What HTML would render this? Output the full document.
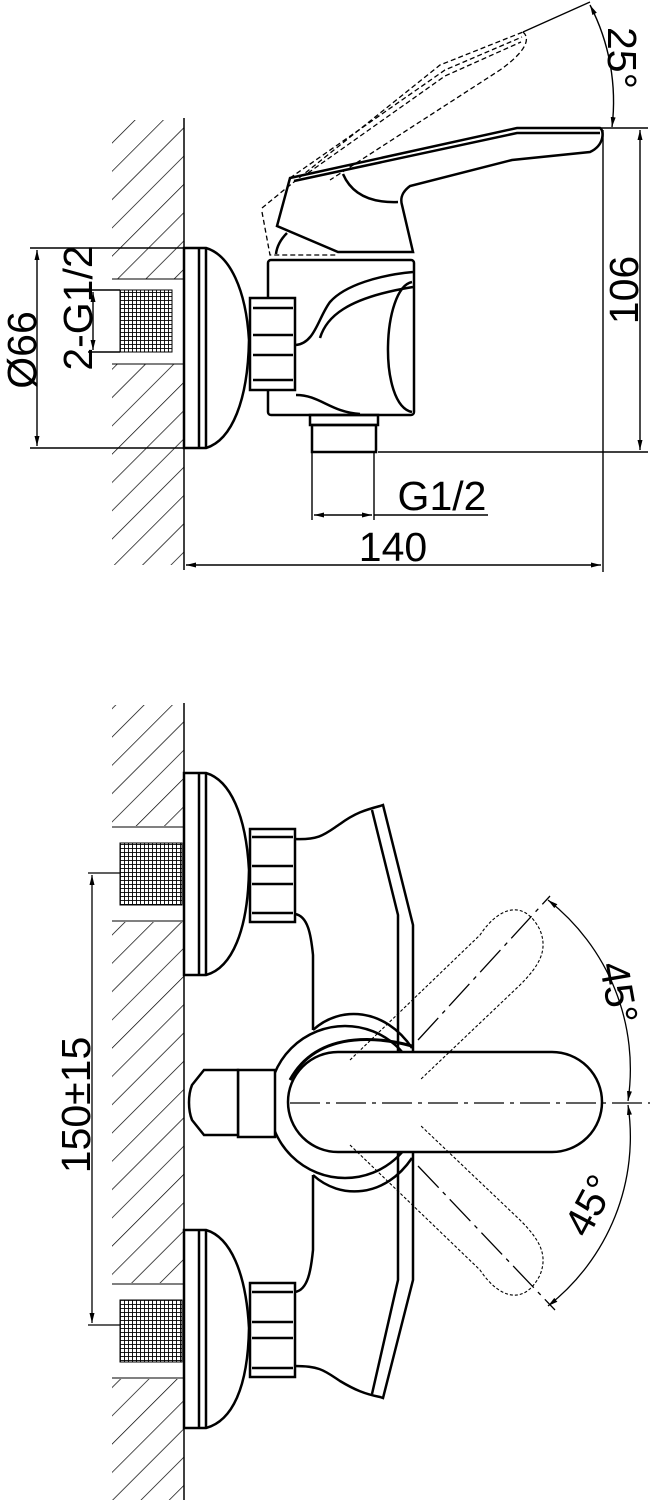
<!DOCTYPE html>
<html><head><meta charset="utf-8"><style>html,body{margin:0;padding:0;background:#fff}svg{display:block}</style></head><body>
<svg width="653" height="1500" viewBox="0 0 653 1500" xmlns="http://www.w3.org/2000/svg" font-family="Liberation Sans, sans-serif">
<defs>
<pattern id="h" patternUnits="userSpaceOnUse" width="20" height="20" patternTransform="rotate(45)"><line x1="0" y1="0" x2="0" y2="20" stroke="#000" stroke-width="1.4"/></pattern>
<pattern id="k" patternUnits="userSpaceOnUse" width="4" height="4"><rect width="4" height="4" fill="#fff"/><path d="M0 0H4M0 0V4" stroke="#000" stroke-width="1.8"/></pattern>
<marker id="a" viewBox="0 0 10 10" refX="10" refY="5" markerWidth="10" markerHeight="10" orient="auto-start-reverse" markerUnits="userSpaceOnUse"><path d="M0 2.5L10 5L0 7.5z" fill="#000"/></marker>
</defs>
<g fill="none" stroke="#000">
<!-- TOP VIEW -->
<rect x="112" y="120" width="72" height="445" fill="url(#h)" stroke="none"/>
<rect x="110" y="279" width="76" height="85" fill="#fff" stroke="none"/>
<line x1="184" y1="118" x2="184" y2="570" stroke-width="1.5"/>
<line x1="112" y1="279" x2="184" y2="279"/><line x1="112" y1="364" x2="184" y2="364"/>
<rect x="120" y="290" width="52" height="62" fill="url(#k)" stroke="#000" stroke-width="1"/>
<g stroke-width="2.5">
<path d="M184 248H206C230 255 246 290 249 340C248 400 232 440 206 448H184Z" fill="#fff"/>
<line x1="206" y1="248" x2="206" y2="448"/><line x1="199" y1="249" x2="199" y2="447"/>
<rect x="268" y="260" width="146" height="155" rx="3" fill="#fff"/>
<path d="M296 345C315 343 318 318 330 302C345 285 380 275 413 272"/>
<path d="M296 395C320 395 330 412 360 414"/>
<path d="M412 282C382 288 378 405 412 412"/>
<path d="M320 338C326 318 345 298 413 287"/>
<rect x="250" y="298" width="45" height="92" fill="#fff"/>
<line x1="253" y1="308" x2="293" y2="308"/><line x1="253" y1="335" x2="293" y2="335"/><line x1="253" y1="355" x2="293" y2="355"/><line x1="253" y1="380" x2="293" y2="380"/>
<rect x="310" y="415" width="68" height="10"/>
<rect x="312" y="425" width="64" height="27"/>
<path d="M290 178L517 128H600C604 130 605 145 590 152L512 160L410 186C402 192 400 198 402 205L413 252H338L277 226Z" fill="#fff"/>
<path d="M343 174C352 195 372 203 398 202"/>
<path d="M294 181L517 133H600"/>
<path d="M276 254C277 245 282 238 287 233"/>
</g>
<g stroke-width="1.3" stroke-dasharray="5 3">
<path d="M262 212L270 255H338"/>
<path d="M262 208L284 190L440 65L523 32"/>
<path d="M290 178L445 70L522 37"/>
<path d="M308 173L445 76L521 42"/>
<path d="M523 32C530 38 528 50 500 70L330 180"/>
</g>
<line x1="523" y1="32" x2="590" y2="2" stroke-width="1.3"/>
<path d="M590 5A210 210 0 0 1 612 127" stroke-width="1.4" marker-start="url(#a)" marker-end="url(#a)"/>
<g stroke-width="1.4">
<line x1="30" y1="248" x2="184" y2="248"/><line x1="30" y1="448" x2="184" y2="448"/>
<line x1="37" y1="250" x2="37" y2="446" marker-start="url(#a)" marker-end="url(#a)"/>
<line x1="88" y1="290" x2="120" y2="290"/><line x1="88" y1="352" x2="120" y2="352"/>
<line x1="93" y1="292" x2="93" y2="350" marker-start="url(#a)" marker-end="url(#a)"/>
<line x1="600" y1="128" x2="648" y2="128"/><line x1="378" y1="452" x2="648" y2="452"/>
<line x1="640" y1="130" x2="640" y2="450" marker-start="url(#a)" marker-end="url(#a)"/>
<line x1="312" y1="452" x2="312" y2="520"/><line x1="374" y1="452" x2="374" y2="520"/>
<line x1="374" y1="515" x2="488" y2="515"/>
<line x1="314" y1="515" x2="372" y2="515" marker-start="url(#a)" marker-end="url(#a)"/>
<line x1="603" y1="130" x2="603" y2="572"/>
<line x1="186" y1="565" x2="601" y2="565" marker-start="url(#a)" marker-end="url(#a)"/>
</g>
<!-- BOTTOM VIEW -->
<rect x="112" y="705" width="72" height="795" fill="url(#h)" stroke="none"/>
<rect x="110" y="826" width="76" height="96" fill="#fff" stroke="none"/>
<rect x="110" y="1283" width="76" height="96" fill="#fff" stroke="none"/>
<line x1="184" y1="703" x2="184" y2="1500" stroke-width="1.5"/>
<line x1="112" y1="827" x2="184" y2="827"/><line x1="112" y1="921" x2="184" y2="921"/>
<line x1="112" y1="1284" x2="184" y2="1284"/><line x1="112" y1="1378" x2="184" y2="1378"/>
<rect x="120" y="843" width="62" height="62" fill="url(#k)" stroke="#000" stroke-width="1"/>
<rect x="120" y="1300" width="62" height="62" fill="url(#k)" stroke="#000" stroke-width="1"/>
<g stroke-width="2.5">
<path d="M184 773H206C230 780 246 815 249 870C248 930 232 968 206 975H184Z" fill="#fff"/>
<line x1="206" y1="773" x2="206" y2="975"/><line x1="199" y1="774" x2="199" y2="974"/>
<path d="M184 1230H206C230 1237 246 1272 249 1328C248 1388 232 1421 206 1428H184Z" fill="#fff"/>
<line x1="206" y1="1230" x2="206" y2="1428"/><line x1="199" y1="1231" x2="199" y2="1427"/>
<rect x="250" y="829" width="45" height="93"/>
<line x1="252" y1="837" x2="293" y2="837"/><line x1="252" y1="866" x2="293" y2="866"/><line x1="252" y1="884" x2="293" y2="884"/><line x1="252" y1="913" x2="293" y2="913"/>
<rect x="250" y="1283" width="45" height="94"/>
<line x1="252" y1="1292" x2="293" y2="1292"/><line x1="252" y1="1322" x2="293" y2="1322"/><line x1="252" y1="1338" x2="293" y2="1338"/><line x1="252" y1="1368" x2="293" y2="1368"/>
<path d="M295 839C320 840 325 834 340 824C355 813 365 810 380 806L383 805L413 925V1280L383 1398L380 1397C365 1394 355 1390 340 1381C325 1371 320 1366 295 1366"/>
<path d="M372 810L398 915V1280L372 1394"/>
<path d="M295 914C308 916 311 935 313 955V1030"/>
<path d="M295 1292C308 1290 311 1270 313 1250V1175"/>
<path d="M313 1030C340 1005 385 1008 412 1048"/>
<path d="M313 1175C340 1200 385 1198 412 1158"/>
<circle cx="345" cy="1102" r="76"/>
<path d="M412 1052H552A50 50 0 0 1 552 1152H412" fill="#fff"/>
<path d="M412 1052H338A50 50 0 0 0 338 1152H412" fill="#fff"/>
<path d="M412 1046C390 1040 320 1025 290 1080" stroke-width="3"/>
<path d="M238 1070H275V1137H238Z" fill="#fff"/>
<path d="M238 1070H204L192 1085C188 1095 188 1110 192 1120L204 1135H238Z" fill="#fff"/>
</g>
<g stroke-width="1.1" stroke-dasharray="3 2">
<path d="M350 1060L480 935C500 905 525 900 540 930C548 950 540 965 520 985L420 1080"/>
<path d="M350 1145L480 1270C500 1300 525 1305 540 1275C548 1255 540 1240 520 1220L420 1125"/>
</g>
<g stroke-width="1.3">
<line x1="290" y1="1103" x2="650" y2="1103" stroke-dasharray="30 6 4 6"/>
<line x1="418" y1="1040" x2="550" y2="896" stroke-dasharray="30 6 4 6"/>
<line x1="418" y1="1166" x2="555" y2="1310" stroke-dasharray="30 6 4 6"/>
<path d="M548 900A215 215 0 0 1 628 1101" marker-start="url(#a)" marker-end="url(#a)"/>
<path d="M628 1105A215 215 0 0 1 548 1306" marker-start="url(#a)" marker-end="url(#a)"/>
<line x1="88" y1="873" x2="120" y2="873"/><line x1="88" y1="1325" x2="120" y2="1325"/>
<line x1="92" y1="875" x2="92" y2="1323" marker-start="url(#a)" marker-end="url(#a)"/>
</g>
</g>
<g fill="#000" font-size="41">
<text transform="translate(36,350) rotate(-90)" text-anchor="middle">Ø66</text>
<text transform="translate(92,308) rotate(-90)" text-anchor="middle">2-G1/2</text>
<text transform="translate(638,290) rotate(-90)" text-anchor="middle">106</text>
<text x="442" y="510" text-anchor="middle">G1/2</text>
<text x="393" y="561" text-anchor="middle">140</text>
<text transform="translate(608,58) rotate(90)" text-anchor="middle">25°</text>
<text transform="translate(90,1105) rotate(-90)" text-anchor="middle">150±15</text>
<text transform="translate(605,995) rotate(80)" text-anchor="middle">45°</text>
<text transform="translate(602,1212) rotate(-62)" text-anchor="middle">45°</text>
</g>
</svg>
</body></html>
